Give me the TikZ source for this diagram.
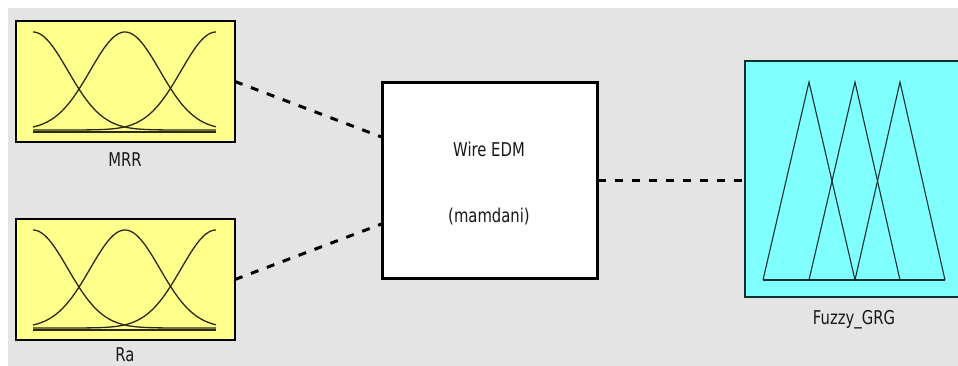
\documentclass[tikz,border=0pt]{standalone}
\usepackage{fontspec}
\usepackage{graphicx}
\setmainfont{DejaVu Sans}
\usetikzlibrary{calc}
\definecolor{bggray}{HTML}{E4E4E4}
\definecolor{mfyellow}{HTML}{FFFF8C}
\definecolor{mfcyan}{HTML}{80FFFF}
\definecolor{curvecol}{HTML}{2A2A14}
\definecolor{tricol}{HTML}{103030}
\newcommand\sqz[1]{\scalebox{0.78}[1]{#1}}
\tikzset{
  inbox/.style={draw=black, line width=1.4pt, fill=mfyellow, minimum width=219pt, minimum height=121pt, inner sep=0pt, outer sep=0pt},
  sysbox/.style={draw=black, line width=3pt, fill=white, minimum width=215pt, minimum height=196pt, inner sep=0pt, outer sep=0pt},
  outbox/.style={draw=tricol, line width=1.4pt, fill=mfcyan, minimum width=217pt, minimum height=236pt, inner sep=0pt, outer sep=0pt},
  lbl/.style={font=\fontsize{19}{22}\selectfont, text=black!90, inner sep=0pt},
  link/.style={line width=3pt, dash pattern=on 8pt off 9pt, black},
  mf/.style={line width=1.3pt, curvecol},
  tri/.style={line width=1.1pt, tricol}
}
\begin{document}
\begin{tikzpicture}[x=1pt,y=-1pt]
\useasboundingbox (0,0) rectangle (958,366);
\fill[white] (0,0) rectangle (958,366);
\fill[bggray] (8,8) rectangle (958,366);
% boxes
\node[inbox] (mrr) at (125.5,81.5) {};
\node[inbox] (ra) at (125.5,279.5) {};
\node[sysbox] (edm) at (490,180.5) {};
\node[outbox] (grg) at (853.5,179) {};
% membership functions of inputs
\foreach \oy in {0,198} {
  \draw[mf] (33,132+\oy) -- (216,132+\oy);
  \foreach \c in {33,125,216} {
    \draw[mf] plot[domain=33:216,samples=70,variable=\t,smooth]
      (\t,{130+\oy-98*exp(-(((\t-\c)/10)^2)/24.22)});
  }
}
% output triangles
\draw[tri] (763,280) -- (945,280);
\draw[tri] (763,280) -- (809,82) -- (855,280);
\draw[tri] (809,280) -- (855,82) -- (900,280);
\draw[tri] (855,280) -- (900,82) -- (945,280);
% labels
\node[lbl] (mrrl) at (125,160) {\sqz{MRR}};
\node[lbl] (ral) at (125,355) {\sqz{Ra}};
\node[lbl] (edm1) at (489,149) {\sqz{Wire EDM}};
\node[lbl] (edm2) at (489,217) {\sqz{(mamdani)}};
\node[lbl] (grgl) at (854,320) {\sqz{Fuzzy\_GRG}};
% connectors
\coordinate (in1) at ($(edm.north west)!0.28!(edm.south west)$);
\coordinate (in2) at ($(edm.north west)!0.72!(edm.south west)$);
\draw[link] (mrr.east) -- (in1);
\draw[link] (ra.east) -- (in2);
\draw[link] (edm.east) -- (edm.east -| grg.west);
\end{tikzpicture}
\end{document}
